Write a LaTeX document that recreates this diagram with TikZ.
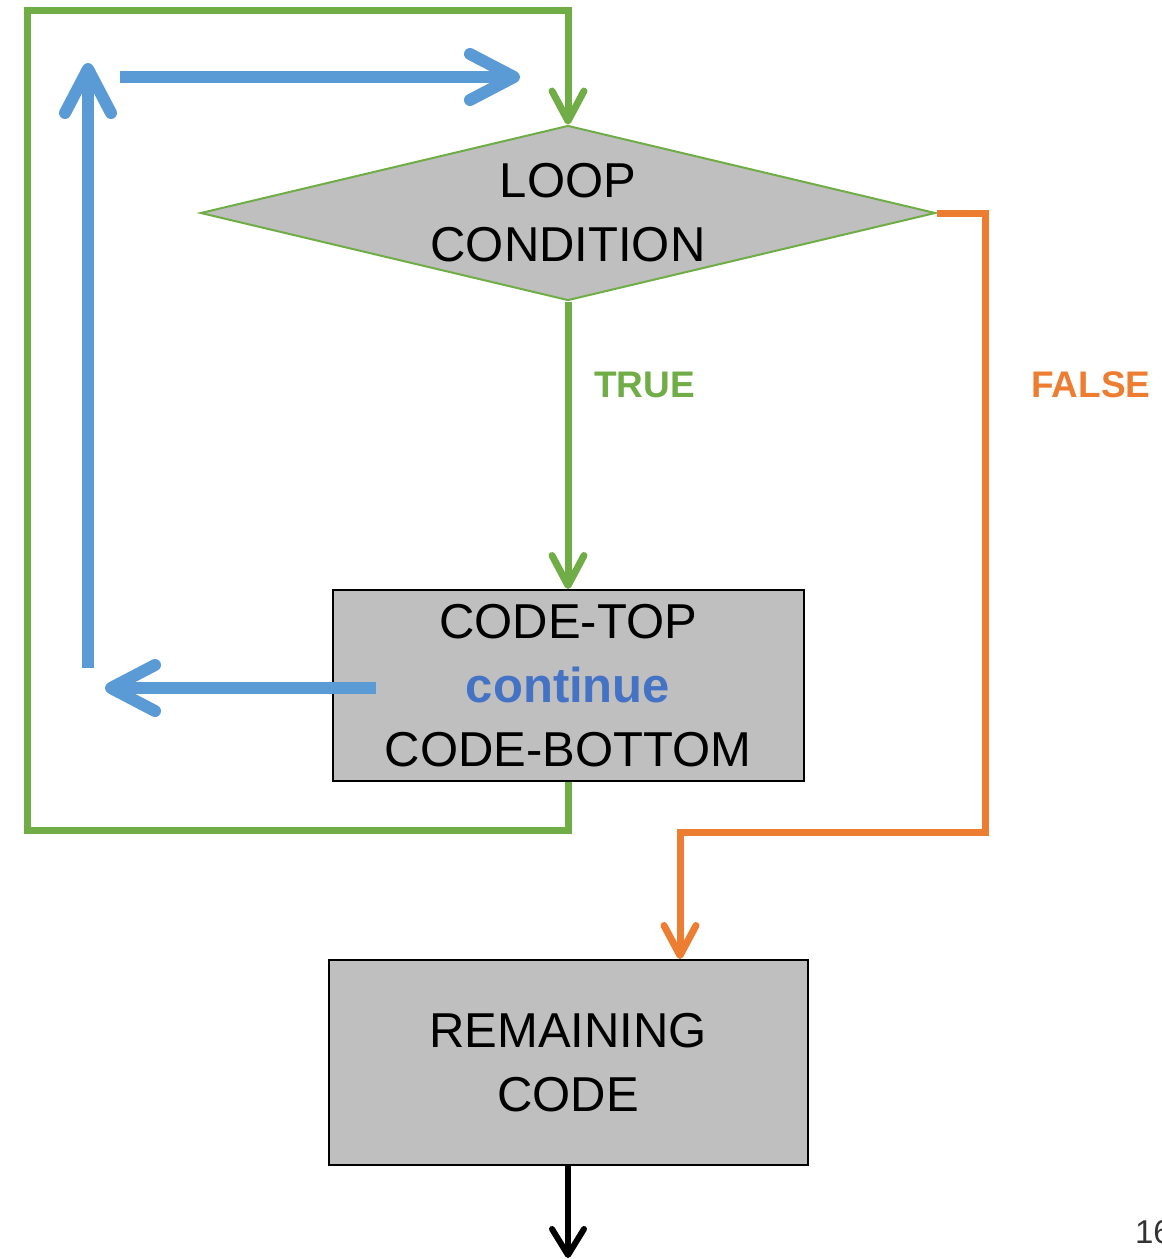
\documentclass[tikz,border=0pt]{standalone}
\usepackage{fontspec}
\setmainfont{Liberation Sans}
\usepackage{xcolor}
\usetikzlibrary{arrows.meta, positioning, shapes.geometric}
\definecolor{loopGreen}{HTML}{70AD47}
\definecolor{exitOrange}{HTML}{ED7D31}
\definecolor{skipBlue}{HTML}{5B9BD5}
\definecolor{kwBlue}{HTML}{4472C4}
\definecolor{boxfill}{HTML}{BFBFBF}
\newcommand{\bigtext}{\fontsize{24.5}{32}\selectfont}
\tikzset{
  block/.style={draw=black, line width=1pt, fill=boxfill, align=center, font=\bigtext, inner sep=0pt},
  cond/.style={diamond, draw=loopGreen, line width=1pt, fill=boxfill, inner sep=0pt},
  lbl/.style={font=\fontsize{18.5}{22}\selectfont\bfseries},
  greenarr/.style={-{Straight Barb[length=15pt, width=16pt, round]}, draw=loopGreen, line width=3.5pt},
  orangearr/.style={-{Straight Barb[length=15pt, width=16pt, round]}, draw=exitOrange, line width=3.5pt},
  bluearr/.style={-{Straight Barb[length=22pt, width=23pt, round]}, draw=skipBlue, line width=6pt},
  blackarr/.style={-{Straight Barb[length=13pt, width=16pt, round]}, draw=black, line width=3pt},
}

\begin{document}
\begin{tikzpicture}[x=0.5pt, y=-0.5pt]
  \useasboundingbox (0,0) rectangle (1162,1259);
  % ---- nodes
  \node[cond, minimum width=367.5pt, minimum height=87.5pt] (cond) at (568,213) {};
  \node[align=center, font=\bigtext] (condtext) at (cond) {LOOP\\CONDITION};
  \node[block, minimum width=235.5pt, minimum height=95.5pt] (body) at (568,685.5)
    {CODE-TOP\\{\color{kwBlue}\bfseries continue}\\CODE-BOTTOM};
  \node[block, minimum width=239.5pt, minimum height=102.5pt] (rest) at (568,1062.5)
    {REMAINING\\CODE};
  % ---- loop: true branch and the way back up
  \coordinate (topleft) at (27,10);
  \draw[greenarr] (cond.south) -- (body.north)
    node[lbl, text=loopGreen, pos=0.29, right=8pt] (truelbl) {TRUE};
  \draw[greenarr] (body.south) -- ++(0,48) -| (topleft) -| (cond.north);
  % ---- false branch to the remaining code
  \coordinate (fturn) at (985,832);
  \coordinate (fdrop) at (680,832);
  \draw[orangearr] (cond.east) -| (fturn) -- (fdrop) -- (fdrop |- rest.north);
  \node[lbl, text=exitOrange] (falselbl) at (1091,385) {FALSE};
  % ---- continue: skip back to the condition
  \coordinate (cskip) at (376,688);
  \coordinate (cback) at (105,688);
  \coordinate (upfoot) at (88,668);
  \coordinate (uptip) at (88,63);
  \coordinate (toprow) at (120,77);
  \coordinate (topend) at (520,77);
  \draw[bluearr] (cskip) -- (cback);
  \draw[bluearr] (upfoot) -- (uptip);
  \draw[bluearr] (toprow) -- (topend);
  % ---- out
  \coordinate (exitpt) at (568,1258);
  \draw[blackarr] (rest.south) -- (exitpt);
  \node[anchor=west, font=\fontsize{16.5}{20}\selectfont, text=black!80] (pagenum) at (1128,1232) {16};
\end{tikzpicture}
\end{document}
